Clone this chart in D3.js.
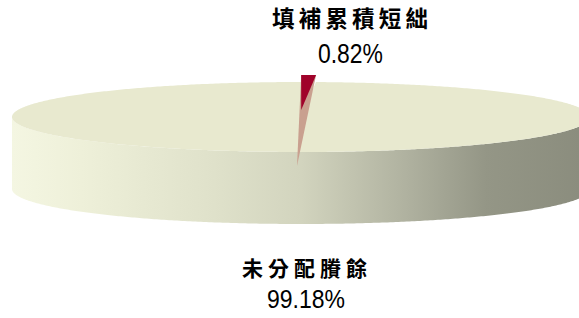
<!DOCTYPE html>
<html>
<head>
<meta charset="utf-8">
<script src="https://cdn.jsdelivr.net/npm/d3@7/dist/d3.min.js"></script>
<style>
  html, body { margin: 0; padding: 0; background: #ffffff; }
  svg { display: block; }
</style>
</head>
<body>
<svg id="chart" width="579" height="318"></svg>
<script>
// ---- data ----
const categories = ["填補累積短絀", "未分配賸餘"];
const values = [0.82, 99.18];
const valueLabels = ["0.82%", "99.18%"];

// ---- geometry ----
const W = 579, H = 318;
const cx = 301, cy = 117, rx = 289, ry = 35, depth = 72;
const explode = 7;

const svg = d3.select("#chart");
const defs = svg.append("defs");

const grad = defs.append("linearGradient")
  .attr("id", "sideGrad")
  .attr("gradientUnits", "userSpaceOnUse")
  .attr("x1", cx - rx).attr("y1", 0)
  .attr("x2", cx + rx).attr("y2", 0);
[["0%", "#f4f6e2"], ["12%", "#eef0d9"], ["35%", "#dfe1ca"], ["50%", "#d2d4be"],
 ["68%", "#b0b2a0"], ["82%", "#949686"], ["100%", "#8a8c7d"]]
  .forEach(([o, c]) => grad.append("stop").attr("offset", o).attr("stop-color", c));

const pie = d3.pie().sort(null).value(d => d)(values);

function P(theta, ox = 0, oy = 0, dz = 0) {
  return [cx + ox + rx * Math.sin(theta), cy + oy - ry * Math.cos(theta) + dz];
}
function arcPts(a0, a1, ox = 0, oy = 0, dz = 0) {
  const n = Math.max(2, Math.ceil(Math.abs(a1 - a0) / 0.01));
  return d3.range(n + 1).map(i => P(a0 + (a1 - a0) * i / n, ox, oy, dz));
}
const line = d3.line();

const bigSlice = pie[1], smallSlice = pie[0];

// side wall of big slice (front half)
const sa0 = Math.max(bigSlice.startAngle, Math.PI / 2);
const sa1 = Math.min(bigSlice.endAngle, 3 * Math.PI / 2);
const sidePts = arcPts(sa0, sa1).concat(arcPts(sa1, sa0, 0, 0, depth));
svg.append("path").attr("d", line(sidePts) + "Z").attr("fill", "url(#sideGrad)");

// top face of big slice
const bigTop = [[cx, cy]].concat(arcPts(bigSlice.startAngle, bigSlice.endAngle));
svg.append("path").attr("d", line(bigTop) + "Z").attr("fill", "#e8e9cf");

// small slice (slightly pulled out)
const mid = (smallSlice.startAngle + smallSlice.endAngle) / 2;
const ox = Math.sin(mid) * explode, oy = -Math.cos(mid) * explode;
const pA = P(smallSlice.startAngle, ox, oy);
const pB = P(smallSlice.endAngle, ox, oy);
// inner wall
const apex = [cx - 4, cy + ry + 14];
svg.append("path").attr("d", line([pA, pB, apex]) + "Z").attr("fill", "#c9a08f");
// top face
const smallTop = [[cx + ox, cy + oy]].concat(arcPts(smallSlice.startAngle, smallSlice.endAngle, ox, oy));
svg.append("path").attr("d", line(smallTop) + "Z").attr("fill", "#a0022a");

// ---- labels ----
const cjk = "'Noto Sans CJK TC', 'Noto Sans CJK SC', sans-serif";
const num = "'Liberation Sans', Arial, sans-serif";

function label(text, x, y, size, len, family, weight) {
  svg.append("text")
    .attr("x", x).attr("y", y)
    .attr("text-anchor", "middle")
    .attr("font-family", family)
    .attr("font-weight", weight)
    .attr("font-size", size)
    .attr("textLength", len)
    .attr("lengthAdjust", len > 100 ? "spacing" : "spacingAndGlyphs")
    .attr("fill", "#000")
    .text(text);
}
label(categories[0], 350, 27, 22.5, 156, cjk, 700);
label(valueLabels[0], 350.5, 63, 27, 65, num, 400);
label(categories[1], 304.5, 276, 21, 125, cjk, 700);
label(valueLabels[1], 306, 308, 25, 78, num, 400);
</script>
</body>
</html>
